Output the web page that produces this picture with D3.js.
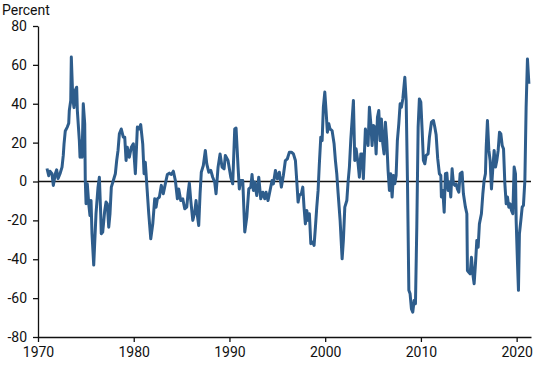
<!DOCTYPE html>
<html lang="en">
<head>
    <meta charset="UTF-8">
    <title>Percent change</title>
    <script src="https://d3js.org/d3.v7.min.js" charset="utf-8"></script>
    <style>
        body {
            margin: 0;
            background: #fff;
        }
        svg text {
            font-family: Roboto, "Liberation Sans", Arial, sans-serif;
            fill: #111;
        }
    </style>
</head>
<body>
    <script>
        var width = 550;
        var height = 365;
        var margin = {top: 26, right: 19, bottom: 28, left: 38};

        // decimal years
        var years = [
            1970.94, 1971.12, 1971.25, 1971.46, 1971.60, 1971.81, 1971.95, 1972.09, 1972.30, 1972.51,
            1972.64, 1972.72, 1972.85, 1973.06, 1973.21, 1973.27, 1973.42, 1973.48, 1973.63, 1973.76,
            1973.90, 1974.04, 1974.11, 1974.32, 1974.39, 1974.52, 1974.60, 1974.73, 1974.88, 1974.94,
            1975.02, 1975.15, 1975.30, 1975.43, 1975.54, 1975.64, 1975.82, 1975.92, 1976.06, 1976.27,
            1976.41, 1976.55, 1976.61, 1976.76, 1976.97, 1977.11, 1977.24, 1977.39, 1977.52, 1977.66,
            1977.87, 1978.08, 1978.22, 1978.36, 1978.50, 1978.70, 1978.91, 1979.06, 1979.20, 1979.33,
            1979.54, 1979.75, 1979.96, 1980.17, 1980.38, 1980.55, 1980.73, 1980.94, 1981.08, 1981.21,
            1981.36, 1981.57, 1981.78, 1981.99, 1982.19, 1982.33, 1982.47, 1982.68, 1982.88, 1983.09,
            1983.30, 1983.51, 1983.72, 1983.93, 1984.14, 1984.35, 1984.56, 1984.70, 1984.91, 1985.12,
            1985.33, 1985.54, 1985.67, 1985.81, 1985.96, 1986.17, 1986.37, 1986.51, 1986.65, 1986.79,
            1986.93, 1987.06, 1987.27, 1987.48, 1987.63, 1987.84, 1988.05, 1988.25, 1988.46, 1988.60,
            1988.81, 1989.02, 1989.23, 1989.44, 1989.57, 1989.85, 1990.14, 1990.34, 1990.55, 1990.69,
            1990.90, 1991.03, 1991.18, 1991.39, 1991.60, 1991.81, 1992.02, 1992.23, 1992.36, 1992.50,
            1992.64, 1992.85, 1993.06, 1993.27, 1993.48, 1993.69, 1993.82, 1994.03, 1994.24, 1994.45,
            1994.59, 1994.80, 1995.01, 1995.21, 1995.42, 1995.63, 1995.84, 1996.05, 1996.26, 1996.47,
            1996.68, 1996.89, 1997.03, 1997.17, 1997.30, 1997.51, 1997.66, 1997.79, 1997.93, 1998.08,
            1998.21, 1998.35, 1998.50, 1998.70, 1998.84, 1998.98, 1999.12, 1999.26, 1999.39, 1999.54,
            1999.68, 1999.81, 1999.96, 2000.09, 2000.23, 2000.38, 2000.51, 2000.72, 2000.93, 2001.07,
            2001.21, 2001.35, 2001.56, 2001.77, 2001.90, 2002.05, 2002.26, 2002.39, 2002.53, 2002.68,
            2002.81, 2002.95, 2003.09, 2003.23, 2003.44, 2003.57, 2003.72, 2003.86, 2003.99, 2004.20,
            2004.35, 2004.48, 2004.62, 2004.77, 2004.90, 2005.04, 2005.18, 2005.32, 2005.46, 2005.60,
            2005.74, 2005.87, 2006.02, 2006.15, 2006.29, 2006.43, 2006.57, 2006.71, 2006.85, 2006.99,
            2007.13, 2007.27, 2007.41, 2007.54, 2007.69, 2007.83, 2007.96, 2008.11, 2008.32, 2008.46,
            2008.59, 2008.74, 2008.87, 2009.01, 2009.15, 2009.29, 2009.43, 2009.57, 2009.71, 2009.84,
            2009.99, 2010.13, 2010.26, 2010.41, 2010.54, 2010.75, 2010.89, 2011.10, 2011.31, 2011.45,
            2011.59, 2011.75, 2011.93, 2012.08, 2012.14, 2012.29, 2012.43, 2012.56, 2012.71, 2012.84,
            2012.98, 2013.12, 2013.26, 2013.40, 2013.54, 2013.68, 2013.81, 2013.96, 2014.10, 2014.30,
            2014.44, 2014.65, 2014.80, 2014.86, 2015.00, 2015.14, 2015.28, 2015.42, 2015.56, 2015.70,
            2015.84, 2015.98, 2016.11, 2016.32, 2016.47, 2016.60, 2016.74, 2016.82, 2016.95, 2017.10,
            2017.23, 2017.37, 2017.52, 2017.65, 2017.79, 2017.93, 2018.07, 2018.21, 2018.35, 2018.49,
            2018.63, 2018.77, 2018.91, 2019.04, 2019.18, 2019.32, 2019.46, 2019.60, 2019.74, 2019.88,
            2019.95, 2020.08, 2020.19, 2020.29, 2020.44, 2020.58, 2020.71, 2020.86, 2020.99, 2021.13,
            2021.28
        ];

        var values = [
            6.7, 3, 5.3, 4, -2, 4, 6, 1.5, 4, 7.4,
            13.4, 19.4, 26, 28, 30, 36.5, 41.7, 64, 43, 38,
            47, 48.5, 36.5, 21, 12.5, 21, 12.5, 40, 29.7, 0.5,
            -11.4, -1.2, -11.5, -17.5, -9.8, -26.9, -43, -32, -16.5, -2.9,
            2.2, -16.5, -26.9, -26, -15, -10.6, -11.5, -23.5, -16.6, -2.9,
            0.5, 4, 10.8, 16, 24.5, 27, 22.8, 22.8, 10.8, 17.6,
            12.5, 17.6, 19.4, 4, 28, 27, 29.3, 19.4, 4, 9.9,
            -1.2, -16.6, -29.5, -21.8, -8.9, -13.2, -8.9, -8, -2, -6.3,
            -1.2, 3.6, 4.3, 3.6, 5.3, 0.5, -8.9, -3.8, -9.8, -8.9,
            -14, -13.2, -6.3, -0.8, -9.8, -20, -15.8, -9.8, -17.5, -22.6,
            -6.3, 4.8, 8.2, 16, 9.1, 4.8, 5.7, 2.2, -0.4, -6.3,
            7.4, 14.2, 7.4, 6.5, 13.4, 10.8, 2.2, -1.2, 27, 27.5,
            7.4, -3.8, 0.5, 0.5, -26, -18.3, -3.8, -2.9, 3.6, -4.6,
            -0.3, -7.2, 2.2, -8.9, -5.5, -8.9, -5.5, -9.8, -4.6, 0.5,
            -1.2, 5.7, 1.4, 4.8, -2.9, 3.1, 10.8, 11.7, 15.1, 15.1,
            14.2, 10.8, 0.5, -10.6, -7.2, -6.3, -2.9, -13.2, -21.8, -14.9,
            -20, -16.6, -32, -31.2, -32.9, -23.5, -13.2, -4.6, 9.1, 22.8,
            21, 38.2, 46, 36.5, 25.4, 29.7, 27, 26.2, 19.4, 10.8,
            4, -6, -20, -39.8, -30.3, -13.2, -9.8, -0.3, 7.4, 22,
            31.4, 41.7, 10.8, 16.8, 9.1, 2.2, 14.2, 14.2, 1.4, 27,
            22.8, 18.5, 38.2, 29.7, 18.5, 28.8, 28, 14.2, 33, 36.5,
            21, 32.2, 19.4, 14.2, 30.5, 21, 5.7, -4.6, 4, -8,
            3.1, -1.2, 3.1, 21, 29.7, 40, 38.2, 42.5, 53.6, 41.7,
            2.2, -56, -57.8, -65.5, -67.2, -61.2, -62.9, -23.5, 28, 42.5,
            40.8, 26.2, 10.8, 9.1, 13.4, 14.2, 22.8, 30.5, 31.4, 28,
            24, 12, 4, 3.1, -8, -4.6, -15.8, 4, 4.3, -4.6,
            -0.3, -8, 6.5, -1.2, -2, -1.2, -3.8, -5.5, 4, 4.8,
            -6.3, -13.2, -16.6, -45.8, -46.7, -47.5, -39, -47.5, -52.6, -42.3,
            -30.3, -33.8, -21.8, -16.6, -6.3, 0.5, 4, 17.6, 31.4, 16,
            10.8, -3.8, 7.4, 16, 7.4, 10.8, 16, 25.4, 24.5, 18.5,
            16.8, -1.2, -11.5, -8, -13.2, -11.5, -14.9, -16.6, 7.4, 4,
            -20, -40.6, -56, -26.9, -20, -13.2, -12.3, 0.5, 38.2, 63,
            50.3
        ];

        var yTicks = [-80, -60, -40, -20, 0, 20, 40, 60, 80];
        var xTicks = [1970, 1980, 1990, 2000, 2010, 2020];

        var svg = d3.select("body")
            .append("svg")
            .attr("width", width)
            .attr("height", height);

        var x = d3.scaleLinear()
            .domain([1970, 2021.5])
            .range([margin.left, width - margin.right]);

        var y = d3.scaleLinear()
            .domain([-80, 80])
            .range([height - margin.bottom, margin.top]);

        // plain hyphen for negatives, like the original
        var plain = function(d) { return String(d); };

        svg.append("g")
            .attr("transform", "translate(" + margin.left + ",0)")
            .call(d3.axisLeft(y).tickValues(yTicks).tickFormat(plain)
                .tickSize(5).tickSizeOuter(0).tickPadding(6));

        svg.append("g")
            .attr("transform", "translate(0," + (height - margin.bottom) + ")")
            .call(d3.axisBottom(x).tickValues(xTicks).tickFormat(plain)
                .tickSize(5).tickSizeOuter(0).tickPadding(5));

        svg.selectAll(".tick text")
            .style("font-size", "14px")
            .style("fill", "#111");
        svg.selectAll(".domain, .tick line")
            .attr("stroke", "#111")
            .attr("stroke-width", 1.3);

        // zero line
        svg.append("line")
            .attr("x1", x(1970))
            .attr("x2", x(2021.5))
            .attr("y1", y(0))
            .attr("y2", y(0))
            .attr("stroke", "#111")
            .attr("stroke-width", 1.3);

        svg.append("text")
            .attr("x", 2)
            .attr("y", 15)
            .style("font-size", "14px")
            .text("Percent");

        var line = d3.line()
            .x(function(d, i) { return x(years[i]); })
            .y(function(d) { return y(d); });

        svg.append("path")
            .datum(values)
            .attr("fill", "none")
            .attr("stroke", "#2e5d8c")
            .attr("stroke-width", 3)
            .attr("stroke-linejoin", "round")
            .attr("d", line);
    </script>
</body>
</html>
